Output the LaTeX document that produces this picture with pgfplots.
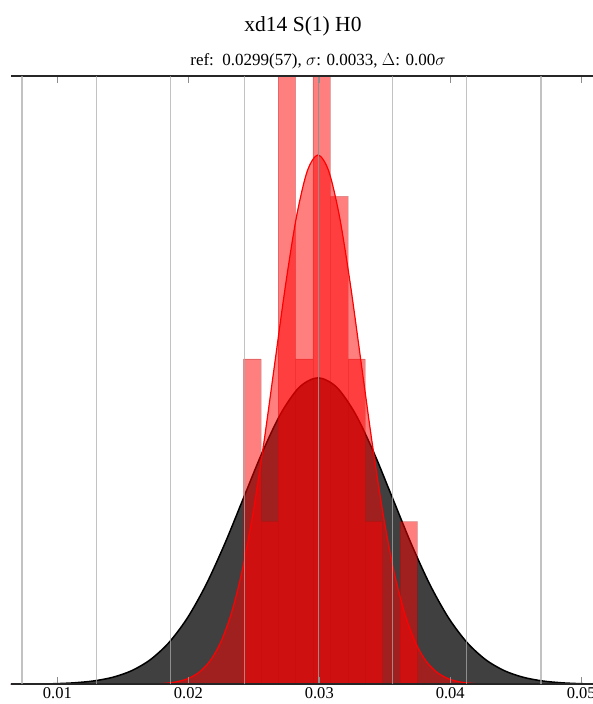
\documentclass[border=0pt]{standalone}
\usepackage{fontspec}
\setmainfont{Liberation Serif}
\usepackage{pgfplots}
\pgfplotsset{compat=1.18}

\definecolor{gridgray}{RGB}{172,172,172}
\definecolor{refgray}{RGB}{144,144,144}

\begin{document}
\begin{tikzpicture}
\path[use as bounding box] (-11pt,-19.7pt) rectangle (581pt,684.3pt);
\begin{axis}[
  at={(0pt,0pt)}, anchor=south west,
  scale only axis,
  width=614pt, height=608.6pt,
  xmin=0.00646, xmax=0.05334,
  ymin=0, ymax=139,
  hide y axis,
  separate axis lines,
  axis on top,
  x axis line style={black!85, line width=1.8pt},
  xtick={0.01,0.02,0.03,0.04,0.05},
  xticklabels={0.01,0.02,0.03,0.04,0.05},
  xtick pos=both,
  tick align=inside,
  major tick length=7pt,
  tick style={black!45, line width=1pt},
  xticklabel style={font=\fontsize{16.5}{16.5}\selectfont, yshift=-1pt, inner sep=2.5pt},
  xmajorgrids=false,
  minor xtick={0.02994},
  minor tick length=0pt,
  xminorgrids=true,
  minor grid style={refgray, line width=1.2pt},
  extra x ticks={0.0073,0.01296,0.01862,0.02428,0.0356,0.04126,0.04692},
  extra x tick labels={},
  extra x tick style={xmajorgrids=true, major tick length=0pt,
    major grid style={gridgray, opacity=0.73, line width=1.2pt}},
]

% reference distribution, mean 0.0299, sigma 0.0057
\addplot[smooth, draw=black, line width=1.5pt, fill=black, fill opacity=0.75]
coordinates {
(0.005675,0.01)(0.0071,0.02)(0.008525,0.06)(0.00995,0.15)(0.011375,0.36)
(0.0128,0.78)(0.014225,1.60)(0.01565,3.08)(0.017075,5.57)(0.0185,9.47)
(0.019925,15.14)(0.02135,22.73)(0.022775,32.05)(0.0242,42.46)(0.025625,52.84)
(0.02705,61.78)(0.028475,67.85)(0.0299,70.0)(0.031325,67.85)(0.03275,61.78)
(0.034175,52.84)(0.0356,42.46)(0.037025,32.05)(0.03845,22.73)(0.039875,15.14)
(0.0413,9.47)(0.042725,5.57)(0.04415,3.08)(0.045575,1.60)(0.047,0.78)
(0.048425,0.36)(0.04985,0.15)(0.051275,0.06)(0.0527,0.02)(0.054125,0.01)
} \closedcycle;

% histogram of the 20 samples (density)
\addplot[ybar interval, fill=red, fill opacity=0.5,
  draw=red!50!black, draw opacity=0.2, line width=0.5pt]
coordinates {
(0.02421,74.3)(0.025537,37.15)(0.026864,148.6)(0.028191,74.3)
(0.029518,148.6)(0.030845,111.45)(0.032172,74.3)(0.033499,37.15)
(0.034826,0)(0.036153,37.15)(0.03748,0)
};

% fitted distribution, sigma 0.0033
\addplot[smooth, draw=red, line width=1.2pt, fill=red, fill opacity=0.5]
coordinates {
(0.0055,0)(0.0101,0)(0.0149,0.004)(0.0167,0.04)(0.017525,0.11)(0.01835,0.26)
(0.019175,0.61)(0.0200,1.34)(0.020825,2.76)(0.02165,5.31)(0.022475,9.62)
(0.0233,16.36)(0.024125,26.14)(0.02495,39.25)(0.025775,55.35)(0.0266,73.32)
(0.027425,91.25)(0.02825,106.69)(0.029075,117.17)(0.0299,120.89)
(0.030725,117.17)(0.03155,106.69)(0.032375,91.25)(0.0332,73.32)
(0.034025,55.35)(0.03485,39.25)(0.035675,26.14)(0.0365,16.36)
(0.037325,9.62)(0.03815,5.31)(0.038975,2.76)(0.0398,1.34)(0.040625,0.61)
(0.04145,0.26)(0.042275,0.11)(0.0431,0.04)(0.0449,0.004)(0.0497,0)(0.0545,0)
} \closedcycle;

\end{axis}

\node[anchor=base, font=\fontsize{21.5}{21.5}\selectfont] at (292pt,652.8pt) {xd14 S(1) H0};
\node[anchor=base, font=\fontsize{17}{17}\selectfont] at (307pt,618.3pt)
  {ref:\ \ 0.0299(57), $\sigma$: 0.0033, $\Delta$: 0.00$\sigma$};
\end{tikzpicture}
\end{document}
